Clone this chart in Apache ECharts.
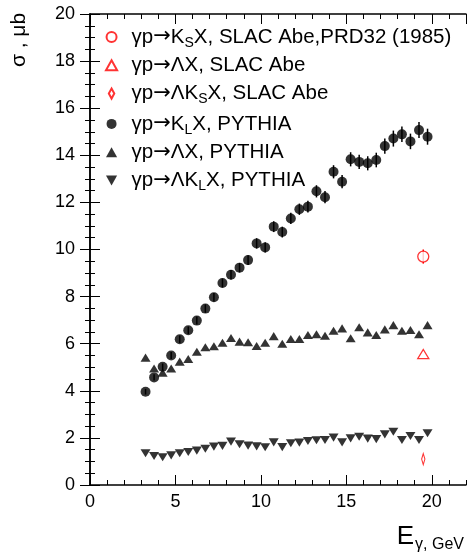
<!DOCTYPE html>
<html>
<head>
<meta charset="utf-8">
<script src="https://cdn.jsdelivr.net/npm/echarts@6/dist/echarts.min.js"></script>
<style>html,body{margin:0;padding:0;background:#fff;}#c{width:468px;height:556px;}</style>
</head>
<body>
<div id="c"></div>
<script>
// ---- data ----
const energy = [3.25,3.75,4.25,4.75,5.25,5.75,6.25,6.75,7.25,7.75,8.25,8.75,9.25,9.75,10.25,10.75,11.25,11.75,12.25,12.75,13.25,13.75,14.25,14.75,15.25,15.75,16.25,16.75,17.25,17.75,18.25,18.75,19.25,19.75];
const klPythia = [3.96,4.57,5.02,5.5,6.19,6.57,6.98,7.49,7.97,8.58,8.93,9.23,9.55,10.26,10.09,10.97,10.74,11.32,11.71,11.82,12.47,12.22,13.3,12.88,13.83,13.72,13.66,13.8,14.39,14.71,14.89,14.59,15.07,14.79];
const klPythiaErr = [0.12,0.13,0.14,0.15,0.16,0.16,0.17,0.18,0.18,0.19,0.2,0.2,0.21,0.22,0.22,0.23,0.23,0.24,0.24,0.25,0.26,0.26,0.28,0.28,0.3,0.3,0.3,0.31,0.32,0.34,0.33,0.33,0.34,0.34];
const lamPythia = [5.41,4.95,4.77,4.95,5.24,5.35,5.66,5.85,5.89,6.04,6.24,6.09,6.06,5.9,6.04,6.32,6.0,6.2,6.2,6.37,6.4,6.34,6.55,6.65,6.23,6.7,6.48,6.37,6.61,6.79,6.55,6.58,6.4,6.79];
const lamKlPythia = [1.35,1.23,1.18,1.26,1.35,1.4,1.46,1.54,1.63,1.66,1.84,1.73,1.67,1.64,1.6,1.81,1.61,1.77,1.8,1.87,1.9,1.91,2.01,1.81,1.98,2.05,1.97,1.95,2.15,2.26,1.91,2.08,1.91,2.2];
const slacEnergy = [19.5];
const slacKs = [9.7];
const slacKsErr = [0.3];
const slacLam = [5.56];
const slacLamKs = [1.1];
const xTicks = [0,5,10,15,20];
const yTicks = [0,2,4,6,8,10,12,14,16,18,20];

const names = ['ksSlac','lamSlac','lamKsSlac','klPy','lamPy','lamKlPy'];
const legendText = {
  ksSlac:   '{n|γp}{a|→}{n|K}{s|S}{n|X, SLAC Abe,PRD32 (1985)}',
  lamSlac:  '{n|γp}{a|→}{n|ΛX, SLAC Abe}',
  lamKsSlac:'{n|γp}{a|→}{n|ΛK}{s|S}{n|X, SLAC Abe}',
  klPy:     '{n|γp}{a|→}{n|K}{s|L}{n|X, PYTHIA}',
  lamPy:    '{n|γp}{a|→}{n|ΛX, PYTHIA}',
  lamKlPy:  '{n|γp}{a|→}{n|ΛK}{s|L}{n|X, PYTHIA}'
};

const FONT = '"Liberation Sans", Arial, Helvetica, sans-serif';
const pair = (xs, ys) => xs.map((x, i) => [x, ys[i]]);
const triple = (xs, ys, es) => xs.map((x, i) => [x, ys[i], es[i]]);
const upTri = 'path://M5,0L10,9L0,9Z';
const downTri = 'path://M0,0L10,0L5,9Z';
const narrowDiamond = 'path://M3,0L6,5.5L3,11L0,5.5Z';
const openRed = {color:'#fff', borderColor:'#ff0000', borderWidth:1.3};

function errBar(color) {
  return function (params, api) {
    const x = api.value(0), y = api.value(1), e = api.value(2);
    const p1 = api.coord([x, y - e]);
    const p2 = api.coord([x, y + e]);
    return {type:'line', shape:{x1:p1[0], y1:p1[1], x2:p2[0], y2:p2[1]},
            style:{stroke: color, lineWidth: 1.5}};
  };
}

const axisCommon = {
  min: 0, axisLine:{show:true, lineStyle:{color:'#000', width:1.5}},
  splitLine:{show:false}
};

const chart = echarts.init(document.getElementById('c'), null, {renderer:'canvas'});
chart.setOption({
  animation: false,
  backgroundColor: '#fff',
  grid: {left: 90, right: 2, top: 14, bottom: 71},
  xAxis: [
    Object.assign({}, axisCommon, {type:'value', position:'bottom', max:22, interval:5,
      axisTick:{show:true, inside:true, length:10, lineStyle:{color:'#000', width:1}},
      axisLabel:{show:true, margin:8, fontSize:18, fontFamily:FONT, color:'#000', showMaxLabel:false,
        formatter: v => xTicks.indexOf(v) >= 0 ? String(v) : ''}}),
    Object.assign({}, axisCommon, {type:'value', position:'bottom', max:22, interval:1,
      axisLine:{show:false}, axisLabel:{show:false},
      axisTick:{show:true, inside:true, length:5, lineStyle:{color:'#000', width:1}}}),
    Object.assign({}, axisCommon, {type:'value', position:'top', max:22, interval:5,
      axisLabel:{show:false},
      axisTick:{show:true, inside:true, length:10, lineStyle:{color:'#000', width:1}}}),
    Object.assign({}, axisCommon, {type:'value', position:'top', max:22, interval:1,
      axisLine:{show:false}, axisLabel:{show:false},
      axisTick:{show:true, inside:true, length:5, lineStyle:{color:'#000', width:1}}})
  ],
  yAxis: [
    Object.assign({}, axisCommon, {type:'value', position:'left', max:20, interval:2,
      axisTick:{show:true, inside:true, length:10, lineStyle:{color:'#000', width:1}},
      minorTick:{show:true, splitNumber:4, length:5, lineStyle:{color:'#000', width:1}},
      axisLabel:{show:true, margin:15, fontSize:18, fontFamily:FONT, color:'#000',
        formatter: v => yTicks.indexOf(v) >= 0 ? String(v) : ''}}),
    Object.assign({}, axisCommon, {type:'value', position:'right', max:20, interval:2,
      axisLabel:{show:false},
      axisTick:{show:true, inside:true, length:10, lineStyle:{color:'#000', width:1}},
      minorTick:{show:true, splitNumber:4, length:5, lineStyle:{color:'#000', width:1}}})
  ],
  legend: {
    orient:'vertical', left: 100, top: 19, itemWidth: 30, itemHeight: 10, itemGap: 4.3,
    selectedMode: false, data: names,
    formatter: n => legendText[n],
    textStyle: {
      fontFamily: FONT, fontSize: 20.5, color:'#000', lineHeight: 22,
      rich: {
        n: {fontFamily: FONT, fontSize: 20.5, color:'#000', lineHeight: 22},
        a: {fontFamily: '"DejaVu Sans", sans-serif', fontSize: 21, color:'#000', lineHeight: 22},
        s: {fontFamily: FONT, fontSize: 14, color:'#000', lineHeight: 22, padding:[12,0,0,0]}
      }
    }
  },
  graphic: [
    {type:'text', x: 19, y: 40, rotation: Math.PI/2,
     style:{text:'σ , μb', font:'21px ' + FONT, fill:'#000', textAlign:'center', textVerticalAlign:'middle'}},
    {type:'text', x: 464, y: 537,
     style:{text:'{e|E}{s|γ, GeV}', textAlign:'right', textVerticalAlign:'middle',
       rich:{e:{fontFamily:FONT, fontSize:26, fill:'#000', lineHeight:28},
             s:{fontFamily:FONT, fontSize:16, fill:'#000', lineHeight:28, padding:[16,0,0,1]}}}}
  ],
  series: [
    {type:'custom', name:'klErr', renderItem: errBar('#000'), data: triple(energy, klPythia, klPythiaErr), z: 1, silent: true},
    {type:'custom', name:'ksErr', renderItem: errBar('#ff0000'), data: triple(slacEnergy, slacKs, slacKsErr), z: 1, silent: true},
    {type:'scatter', name:'ksSlac', data: pair(slacEnergy, slacKs), symbol:'circle', symbolSize: 11, symbolKeepAspect: true, itemStyle: openRed, z: 3},
    {type:'scatter', name:'lamSlac', data: pair(slacEnergy, slacLam), symbol: upTri, symbolSize: [11,10], symbolKeepAspect: true, itemStyle: openRed, z: 3},
    {type:'scatter', name:'lamKsSlac', data: pair(slacEnergy, slacLamKs), symbol: narrowDiamond, symbolSize: [6,11], symbolKeepAspect: true, itemStyle: openRed, z: 3},
    {type:'scatter', name:'klPy', data: pair(energy, klPythia), symbol:'circle', symbolSize: 10, symbolKeepAspect: true, itemStyle:{color:'#000'}, z: 2},
    {type:'scatter', name:'lamPy', data: pair(energy, lamPythia), symbol: upTri, symbolSize: [10,9], symbolKeepAspect: true, itemStyle:{color:'#000'}, z: 2},
    {type:'scatter', name:'lamKlPy', data: pair(energy, lamKlPythia), symbol: downTri, symbolSize: [10,9], symbolKeepAspect: true, itemStyle:{color:'#000'}, z: 2}
  ]
});
</script>
</body>
</html>
